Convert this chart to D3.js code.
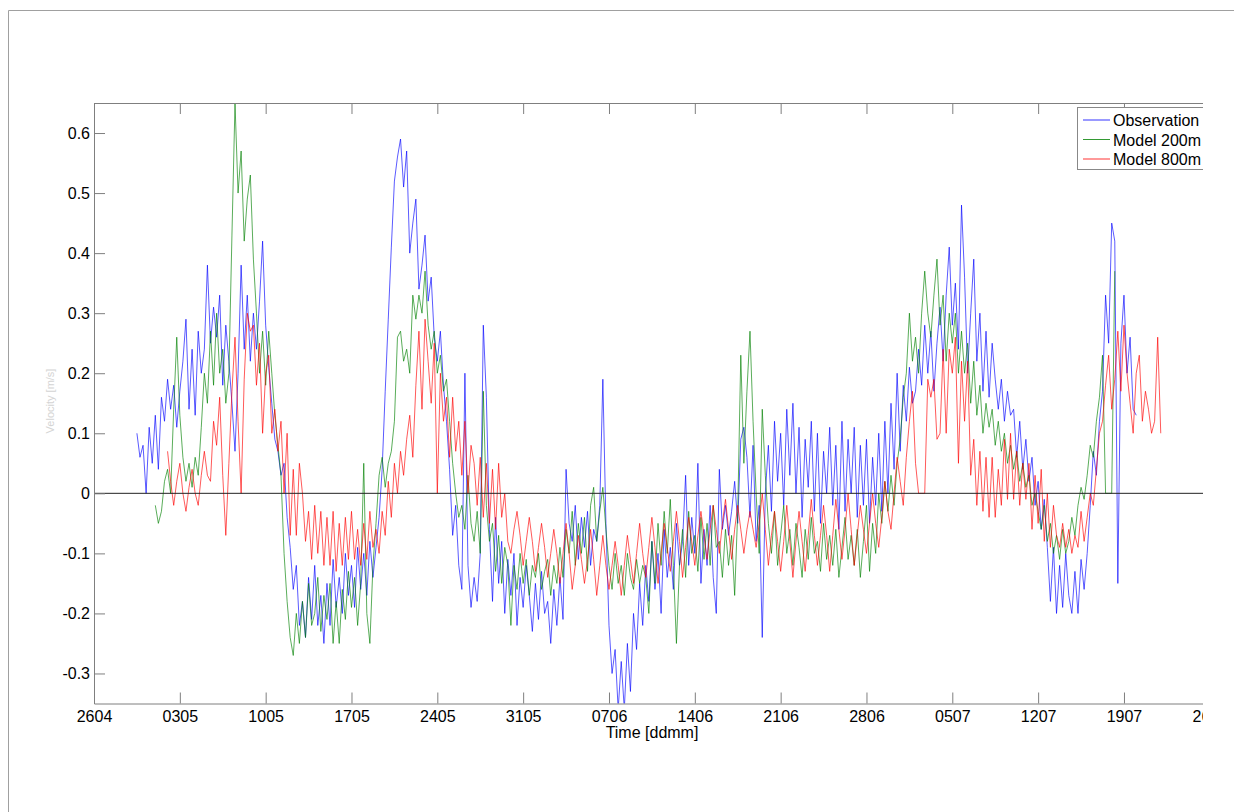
<!DOCTYPE html>
<html>
<head>
<meta charset="utf-8">
<script src="https://cdn.jsdelivr.net/npm/d3@7"></script>
<style>
body { margin: 0; background: #fff; }
svg { display: block; font-family: "Liberation Sans", Arial, sans-serif; }
</style>
</head>
<body>
<svg id="chart" width="1234" height="812"></svg>
<script>
// days counted from 26 April, one tick per week
let tickDays = [0, 7, 14, 21, 28, 35, 42, 49, 56, 63, 70, 77, 84, 91];
let tickLabels = ["2604", "0305", "1005", "1705", "2405", "3105", "0706",
                  "1406", "2106", "2806", "0507", "1207", "1907", "2607"];
let yTicks = [-0.3, -0.2, -0.1, 0, 0.1, 0.2, 0.3, 0.4, 0.5, 0.6];

let seriesNames = ["Observation", "Model 200m", "Model 800m"];
let seriesColors = ["#0000ff", "#008000", "#ff0000"];

// one value every 6 hours
let obsStart = 3.5, obsStep = 0.25;
let obsValues = [
  0.10, 0.06,
  0.08, 0.0, 0.11, 0.05,   0.13, 0.04, 0.16, 0.12,   0.19, 0.14, 0.18, 0.11,
  0.17, 0.22, 0.29, 0.14,  0.24, 0.13, 0.27, 0.20,   0.24, 0.38, 0.25, 0.31,
  0.26, 0.33, 0.18, 0.28,  0.22, 0.15, 0.07, 0.20,   0.38, 0.24, 0.33, 0.22,
  0.30, 0.24, 0.32, 0.42,  0.28, 0.21, 0.15, 0.09,   0.07, 0.03, 0.05, -0.04,
  -0.09, -0.16, -0.12, -0.22,  -0.18, -0.24, -0.14, -0.21,  -0.12, -0.22, -0.17, -0.25,
  -0.15, -0.22, -0.11, -0.19,  -0.14, -0.20, -0.10, -0.17,  -0.12, -0.19, -0.09, -0.16,
  -0.10, -0.17, -0.08, -0.14,  -0.09, -0.04, 0.04, 0.17,    0.29, 0.41, 0.52, 0.56,
  0.59, 0.51, 0.57, 0.40,  0.45, 0.49, 0.34, 0.38,   0.43, 0.32, 0.36, 0.26,
  0.22, 0.27, 0.18, 0.12,  0.04, -0.07, -0.02, -0.12,  -0.16, 0.20, -0.12, -0.19,
  -0.14, -0.18, -0.10, 0.28,  0.16, -0.06, -0.18, -0.04,  -0.15, -0.08, -0.20, -0.11,
  -0.17, -0.10, -0.22, -0.14,  -0.19, -0.12, -0.17, -0.23,  -0.15, -0.21, -0.13, -0.20,
  -0.18, -0.25, -0.16, -0.22,  -0.14, -0.21, 0.04, -0.05,  -0.08, -0.02, -0.11, -0.04,
  -0.09, -0.03, -0.12, -0.06,  -0.08, -0.02, 0.19, -0.05,  -0.22, -0.30, -0.26, -0.36,
  -0.28, -0.36, -0.25, -0.33,  -0.20, -0.26, -0.15, -0.22,  -0.12, -0.18, -0.08, -0.16,
  -0.10, -0.20, -0.06, -0.14,  -0.09, -0.16, -0.05, -0.12,  -0.08, 0.03, -0.12, -0.04,
  -0.10, 0.05, -0.15, -0.06,  -0.12, -0.02, -0.14, -0.20,  0.04, -0.06, -0.02, -0.07,
  -0.03, 0.02, -0.05, 0.09,  0.11, 0.06, -0.04, 0.08,  -0.08, -0.02, -0.24, 0.0,
  0.08, -0.03, 0.12, 0.02,  0.10, -0.02, 0.14, 0.03,  0.15, 0.0, 0.11, -0.04,
  0.09, 0.01, 0.12, -0.03,  0.10, -0.05, 0.07, 0.0,  0.11, -0.02, 0.08, -0.06,
  0.12, -0.03, 0.09, 0.0,  0.11, -0.04, 0.08, -0.02,  0.09, -0.05, 0.06, -0.02,
  0.10, -0.03, 0.12, 0.0,  0.15, 0.04, 0.20, 0.07,  0.18, 0.12, 0.21, 0.15,
  0.17, 0.24, 0.18, 0.28,  0.20, 0.27, 0.17, 0.25,  0.31, 0.22, 0.33, 0.41,
  0.28, 0.35, 0.24, 0.48,  0.36, 0.20, 0.30, 0.39,  0.22, 0.30, 0.17, 0.27,
  0.16, 0.25, 0.19, 0.14,  0.19, 0.12, 0.17, 0.13,  0.14, 0.06, 0.12, 0.04,
  0.09, 0.02, 0.06, -0.02,  0.02, -0.06, -0.01, -0.09,  -0.18, -0.09, -0.20, -0.12,
  -0.19, -0.10, -0.17, -0.20,  -0.13, -0.20, -0.11, -0.16,  -0.10, -0.02, 0.07, 0.03,
  0.12, 0.17, 0.33, 0.25,  0.45, 0.42, -0.15, 0.25,  0.33, 0.20, 0.26, 0.14,
  0.13
];

let m200Start = 5.0, m200Step = 0.25;
let m200Values = [
  -0.02, -0.05, -0.03, 0.02,  0.04, 0.0, 0.14, 0.26,  0.13, 0.06, 0.02, 0.05,
  0.01, 0.06, 0.03, 0.11,  0.20, 0.15, 0.27, 0.18,  0.30, 0.20, 0.24, 0.15,
  0.20, 0.43, 0.65, 0.50,  0.57, 0.42, 0.49, 0.53,  0.39, 0.30, 0.20, 0.27,
  0.18, 0.27, 0.20, 0.13,  0.08, 0.03, -0.10, -0.18,  -0.24, -0.27, -0.20, -0.25,
  -0.18, -0.24, -0.15, -0.22,  -0.20, -0.14, -0.23, -0.17,  -0.21, -0.15, -0.25, -0.18,
  -0.25, -0.16, -0.21, -0.13,  -0.19, -0.14, -0.22, -0.15,  0.05, -0.20, -0.25, -0.12,
  -0.05, 0.03, 0.06, 0.01,  0.05, 0.07, 0.12, 0.26,  0.27, 0.22, 0.24, 0.20,
  0.33, 0.29, 0.33, 0.30,  0.37, 0.28, 0.24, 0.27,  0.20, 0.23, 0.17, 0.19,
  0.12, 0.05, 0.0, -0.04,  -0.02, -0.06, 0.03, -0.05,  -0.08, -0.03, -0.10, 0.17,
  -0.02, -0.08, -0.05, -0.13,  -0.07, -0.15, -0.09, -0.12,  -0.22, -0.12, -0.16, -0.10,
  -0.15, -0.11, -0.17, -0.12,  -0.14, -0.10, -0.16, -0.13,  -0.11, -0.17, -0.12, -0.15,
  -0.09, -0.14, -0.06, -0.10,  -0.03, -0.12, -0.05, -0.10,  -0.04, -0.13, -0.02, 0.01,
  -0.08, -0.03, 0.01, -0.06,  -0.12, -0.16, -0.10, -0.15,  -0.12, -0.17, -0.10, -0.14,
  -0.16, -0.11, -0.15, -0.12,  -0.14, -0.20, -0.08, -0.15,  -0.05, -0.12, -0.03, -0.10,
  -0.01, -0.12, -0.25, -0.12,  -0.06, -0.14, -0.03, -0.10,  -0.07, -0.13, -0.04, -0.11,
  -0.05, -0.12, -0.02, -0.09,  -0.08, -0.14, -0.06, -0.12,  -0.07, -0.17, -0.03, 0.23,
  0.05, 0.17, 0.27, 0.12,  0.0, -0.10, 0.14, 0.03,  -0.05, -0.10, -0.03, -0.12,
  -0.07, -0.02, -0.10, -0.06,  -0.12, -0.05, -0.09, -0.14,  -0.06, -0.11, -0.04, -0.10,
  -0.08, -0.13, -0.05, -0.11,  -0.07, -0.12, -0.06, -0.14,  -0.09, -0.04, -0.11, -0.07,
  -0.12, -0.06, -0.14, -0.08,  -0.02, -0.13, -0.05, -0.10,  0.0, -0.05, 0.02, -0.03,
  0.03, -0.02, 0.05, 0.09,  0.16, 0.20, 0.30, 0.22,  0.26, 0.20, 0.30, 0.37,
  0.30, 0.26, 0.33, 0.39,  0.28, 0.33, 0.22, 0.30,  0.25, 0.30, 0.20, 0.27,
  0.20, 0.25, 0.15, 0.22,  0.13, 0.18, 0.10, 0.15,  0.11, 0.14, 0.08, 0.12,
  0.07, 0.10, 0.05, 0.08,  0.04, 0.07, 0.02, 0.05,  0.01, 0.03, -0.02, 0.0,
  -0.03, -0.06, -0.02, -0.08,  -0.05, -0.10, -0.07, -0.11,  -0.06, -0.10, -0.08, -0.04,
  -0.07, -0.02, 0.01, -0.01,  0.03, 0.08, 0.06, 0.12,  0.16, 0.23, 0.0, 0.0,
  0.0, 0.37
];

let m800Start = 6.0, m800Step = 0.25;
let m800Values = [
  0.07, 0.02, -0.02, 0.02,  0.05, 0.0, -0.03, 0.01,  0.04, 0.0, -0.02, 0.03,
  0.07, 0.03, 0.02, 0.12,  0.08, 0.16, 0.03, -0.07,  0.05, 0.17, 0.26, 0.12,
  0.0, 0.19, 0.30, 0.27,  0.28, 0.18, 0.25, 0.10,  0.20, 0.23, 0.10, 0.14,
  0.07, 0.12, 0.0, 0.10,  -0.07, 0.04, -0.07, 0.05,  0.0, -0.08, -0.03, -0.11,
  -0.02, -0.10, -0.03, -0.12,  -0.04, -0.12, -0.03, -0.13,  -0.05, -0.12, -0.04, -0.11,
  -0.03, -0.11, -0.06, -0.12,  -0.05, -0.11, -0.03, -0.09,  -0.06, -0.10, -0.03, -0.07,
  0.02, -0.04, 0.05, 0.0,  0.07, 0.03, 0.09, 0.13,  0.06, 0.18, 0.27, 0.14,
  0.29, 0.22, 0.15, 0.25,  0.0, 0.20, 0.12, 0.16,  0.06, 0.16, 0.07, 0.12,
  0.03, 0.12, 0.0, 0.08,  0.05, -0.02, 0.06, -0.04,  0.05, -0.05, 0.04, -0.06,
  0.05, -0.04, 0.0, -0.08,  -0.10, -0.06, -0.03, -0.07,  -0.12, -0.08, -0.04, -0.08,
  -0.13, -0.09, -0.05, -0.09,  -0.14, -0.10, -0.06, -0.10,  -0.15, -0.10, -0.05, -0.10,
  -0.16, -0.12, -0.07, -0.11,  -0.15, -0.11, -0.06, -0.11,  -0.17, -0.12, -0.07, -0.12,
  -0.16, -0.12, -0.08, -0.12,  -0.17, -0.12, -0.07, -0.11,  -0.15, -0.10, -0.05, -0.10,
  -0.14, -0.09, -0.04, -0.09,  -0.15, -0.10, -0.05, -0.09,  -0.13, -0.08, -0.03, -0.08,
  -0.14, -0.09, -0.04, -0.08,  -0.12, -0.07, -0.03, -0.07,  -0.11, -0.06, -0.02, -0.06,
  -0.10, -0.05, -0.01, -0.06,  -0.11, -0.06, -0.02, -0.06,  -0.10, -0.06, -0.03, -0.06,
  -0.09, -0.05, 0.0, -0.06,  -0.12, -0.07, -0.03, -0.08,  -0.13, -0.08, -0.02, -0.08,
  -0.14, -0.08, -0.03, -0.08,  -0.13, -0.07, -0.01, -0.07,  -0.12, -0.07, -0.02, -0.07,
  -0.13, -0.07, -0.01, -0.06,  -0.11, -0.06, 0.0, -0.06,  -0.12, -0.07, -0.02, -0.06,
  -0.10, -0.05, 0.0, -0.05,  -0.09, -0.04, 0.02, -0.03,  -0.06, 0.0, 0.06, 0.02,
  -0.02, 0.06, 0.12, 0.17,  0.05, 0.0, 0.0, 0.0,  0.19, 0.16, 0.19, 0.09,
  0.10, 0.24, 0.10, 0.24,  0.20, 0.26, 0.05, 0.22,  0.12, 0.22, 0.03, 0.09,
  -0.02, 0.07, -0.03, 0.06,  -0.04, 0.06, -0.04, 0.04,  -0.02, 0.09, -0.01, 0.10,
  -0.01, 0.07, -0.02, 0.05,  -0.01, 0.05, -0.06, 0.03,  -0.05, 0.04, -0.08, 0.0,
  -0.09, -0.02, -0.07, -0.09,  -0.05, -0.09, -0.06, -0.10,  -0.07, -0.09, -0.03, -0.08,
  -0.04, 0.0, -0.02, 0.04,  0.10, 0.12, 0.18, 0.23,  0.14, 0.19, 0.27, 0.17,
  0.28, 0.20, 0.15, 0.10,  0.20, 0.23, 0.12, 0.17,  0.14, 0.10, 0.12, 0.26,
  0.10
];

let axisColor = "#7f7f7f";

function toPoints(start, step, values) {
    return values.map((v, i) => [start + i * step, v]);
}

function draw_chart() {
    let svg = d3.select("#chart");

    // outer figure frame (only top and left edges are in view)
    svg.append("path")
        .attr("d", "M8.5,812V10.5H1234")
        .attr("fill", "none")
        .attr("stroke", "#a0a0a0");

    let x = d3.scaleLinear().domain([0, 91]).range([94, 1209.8]);
    let y = d3.scaleLinear().domain([-0.35, 0.65]).range([703.5, 103]);

    // the picture is cut off at the right
    let defs = svg.append("defs");
    defs.append("clipPath").attr("id", "cut")
        .append("rect").attr("x", 0).attr("y", 0).attr("width", 1203).attr("height", 812);
    defs.append("clipPath").attr("id", "plotarea")
        .append("rect").attr("x", 94).attr("y", 103).attr("width", 1109).attr("height", 600.5);

    let root = svg.append("g").attr("clip-path", "url(#cut)");

    // series
    let series = [
        toPoints(obsStart, obsStep, obsValues),
        toPoints(m200Start, m200Step, m200Values),
        toPoints(m800Start, m800Step, m800Values)
    ];
    let line = d3.line().x(d => x(d[0])).y(d => y(d[1]));
    root.append("g")
        .attr("clip-path", "url(#plotarea)")
        .selectAll("path")
        .data(series)
        .join("path")
        .attr("d", line)
        .attr("fill", "none")
        .attr("stroke", (d, i) => seriesColors[i])
        .attr("stroke-width", 0.9)
        .attr("stroke-opacity", 0.72)
        .attr("stroke-linejoin", "round");

    // zero line
    root.append("line")
        .attr("x1", x(0)).attr("x2", 1203)
        .attr("y1", y(0)).attr("y2", y(0))
        .attr("stroke", "#222")
        .attr("stroke-width", 1);

    // axes
    let xAxis = root.append("g")
        .attr("transform", `translate(0,${y(-0.35)})`)
        .call(d3.axisBottom(x).tickValues(tickDays)
            .tickFormat((d, i) => tickLabels[i])
            .tickSizeInner(-11).tickSizeOuter(0).tickPadding(7));
    let xTop = root.append("g")
        .attr("transform", `translate(0,${y(0.65)})`)
        .call(d3.axisTop(x).tickValues(tickDays).tickFormat("")
            .tickSizeInner(-11).tickSizeOuter(0));
    let yAxis = root.append("g")
        .attr("transform", `translate(${x(0)},0)`)
        .call(d3.axisLeft(y).tickValues(yTicks)
            .tickFormat(d => d === 0 ? "0" : d.toFixed(1))
            .tickSizeInner(-11).tickSizeOuter(0).tickPadding(4));

    [xAxis, xTop, yAxis].forEach(g => {
        g.selectAll(".domain, .tick line").attr("stroke", axisColor);
        g.selectAll("text")
            .attr("fill", "#000")
            .attr("font-size", 16)
            .attr("font-family", "'Liberation Sans', Arial, sans-serif");
    });

    // axis titles
    root.append("text")
        .attr("x", 652).attr("y", 738)
        .attr("text-anchor", "middle")
        .attr("font-size", 16)
        .text("Time [ddmm]");
    root.append("text")
        .attr("transform", "translate(54,401) rotate(-90)")
        .attr("text-anchor", "middle")
        .attr("font-size", 11)
        .attr("fill", "#d4d4d4")
        .text("Velocity [m/s]");

    // legend
    let legend = root.append("g");
    legend.append("rect")
        .attr("x", 1077.5).attr("y", 107.5)
        .attr("width", 160).attr("height", 62)
        .attr("fill", "#fff")
        .attr("stroke", "#888");
    let item = legend.selectAll("g.item")
        .data(seriesNames)
        .join("g")
        .attr("class", "item")
        .attr("transform", (d, i) => `translate(0,${120 + i * 19.5})`);
    item.append("line")
        .attr("x1", 1083).attr("x2", 1110)
        .attr("stroke", (d, i) => seriesColors[i])
        .attr("stroke-opacity", 0.8);
    item.append("text")
        .attr("x", 1113).attr("y", 6)
        .attr("font-size", 16)
        .text(d => d);
}

function main() {
    draw_chart();
}

main()
</script>
</body>
</html>
